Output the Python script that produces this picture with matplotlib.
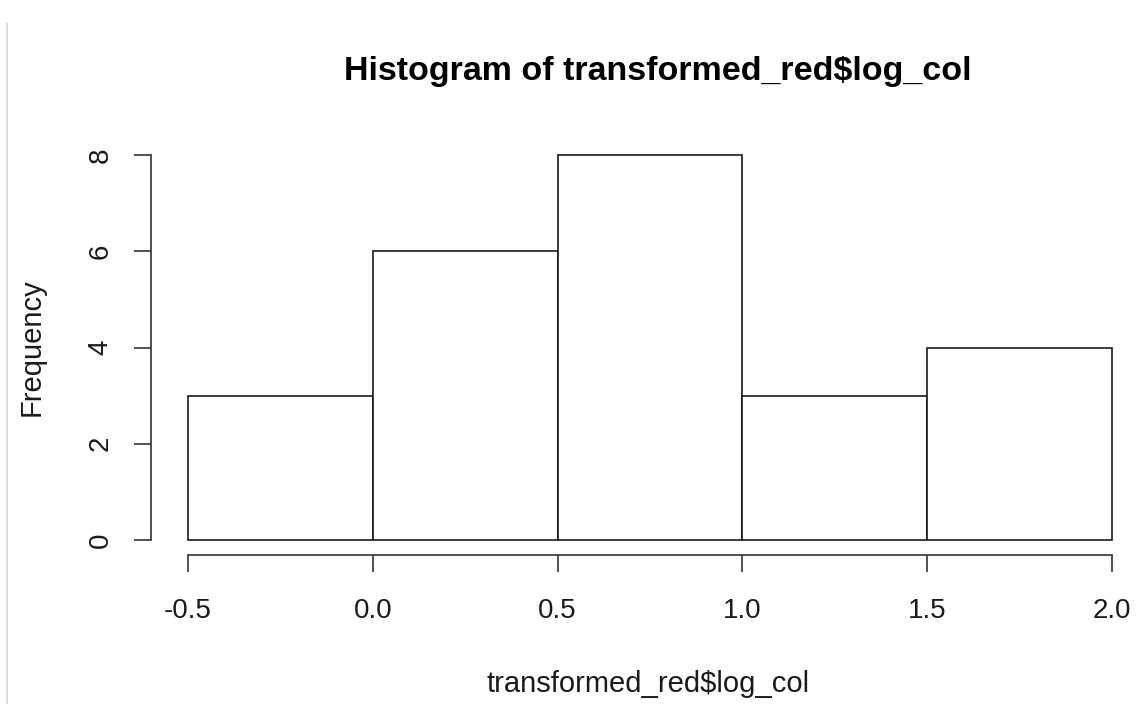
import numpy as np
import matplotlib.pyplot as plt

plt.rcParams['font.family'] = ['Liberation Sans', 'DejaVu Sans']

# histogram breaks and counts
breaks = [-0.5, 0.0, 0.5, 1.0, 1.5, 2.0]
counts = [3, 6, 8, 3, 4]
xticks = [-0.5, 0.0, 0.5, 1.0, 1.5, 2.0]
xtick_labels = ['-0.5', '0.0', '0.5', '1.0', '1.5', '2.0']
yticks = [0, 2, 4, 6, 8]

W, H = 1138, 704
fig = plt.figure(figsize=(W / 100, H / 100), dpi=100)

# plot region in pixels (R-style 4% padding around the data range)
left_px, right_px = 151, 1138
bottom_px, top_px = 555.4, 139.6
ax = fig.add_axes([left_px / W, 1 - bottom_px / H,
                   (right_px - left_px) / W, (bottom_px - top_px) / H])

px_per_unit = (1112 - 188) / 2.5
ax.set_xlim(-0.5 - (188 - left_px) / px_per_unit, 2.0 + (right_px - 1112) / px_per_unit)
ax.set_ylim(-0.32, 8.32)

edges = np.array(breaks)
ax.bar(edges[:-1], counts, width=np.diff(edges), align='edge',
       facecolor='white', edgecolor='#1a1a1a', linewidth=1.2)

axis_col = '#333333'
for s in ['top', 'right']:
    ax.spines[s].set_visible(False)
ax.spines['left'].set_bounds(0, 8)
ax.spines['bottom'].set_bounds(-0.5, 2.0)
for s in ['left', 'bottom']:
    ax.spines[s].set_color(axis_col)
    ax.spines[s].set_linewidth(1.2)

ax.set_xticks(xticks)
ax.set_xticklabels(xtick_labels)
ax.set_yticks(yticks)
ax.set_yticklabels([str(v) for v in yticks], rotation=90, va='center')
ax.tick_params(axis='both', direction='out', length=12, width=1.2,
               color=axis_col, labelsize=20, labelcolor='#1a1a1a')
ax.tick_params(axis='x', pad=19)
ax.tick_params(axis='y', pad=15)

ax.set_xlabel('transformed_red$log_col', fontsize=21, color='#1a1a1a', labelpad=33)
ax.xaxis.label.set_x((648 - left_px) / (right_px - left_px))
ax.set_ylabel('Frequency', fontsize=21, color='#1a1a1a', labelpad=30)
ax.yaxis.label.set_y((bottom_px - 347.5) / (bottom_px - top_px))
ax.set_title('Histogram of transformed_red$log_col', fontsize=24.5,
             fontweight='bold', pad=43, x=(658 - left_px) / (right_px - left_px))
ax.patch.set_visible(False)

# thin window border on the left
fig.add_artist(plt.Line2D([7 / W, 7 / W], [0, 1 - 24 / H], color='#d4d4d4', linewidth=1.2))

fig.savefig('out.png', dpi=100, facecolor='white')
